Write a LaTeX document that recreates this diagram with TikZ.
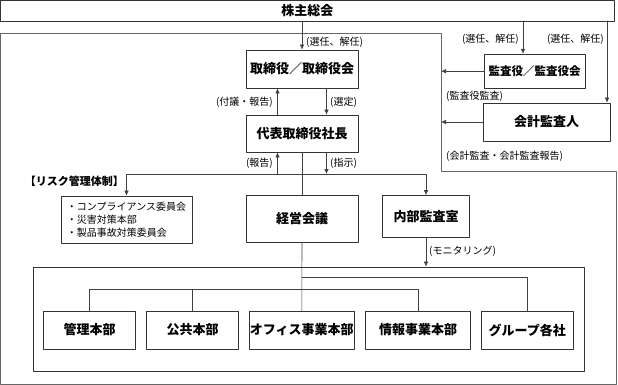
\documentclass[tikz,border=0pt]{standalone}
\usepackage{fontspec}
\setmainfont{Noto Sans CJK JP}
\usetikzlibrary{arrows.meta,positioning}

\begin{document}
\begin{tikzpicture}[
  x=1pt,y=-1pt,
  line cap=round,line join=round,
  box/.style={draw=black!80,fill=white,line width=0.7pt,inner sep=0pt,
    font=\fontsize{13}{15}\selectfont\bfseries},
  unit/.style={box,minimum height=38pt},
  link/.style={draw=black!75,line width=0.6pt},
  note/.style={inner sep=0pt,font=\fontsize{10}{12}\selectfont},
  >={Latex[length=5pt,width=4.5pt]}
]
  \useasboundingbox (0,0) rectangle (618,385);

  % Outer frame
  \draw[black!60,line width=1pt]
    (0.5,34) -- (441,34) -- (441,171) -- (616.5,171) -- (616.5,384) -- (0.5,384) -- cycle;

  % Top
  \node[box,minimum width=613.5pt,minimum height=20.5pt] (agm) at (307.25,10.75) {株主総会};

  % Board and president
  \node[box,minimum width=112pt,minimum height=38pt] (board) at (302,69) {取締役／取締役会};
  \node[box,minimum width=112pt,minimum height=37pt] (pres) at (302,133.5) {代表取締役社長};

  % Auditors
  \node[box,minimum width=101pt,minimum height=34pt,
    font=\fontsize{11.5}{14}\selectfont\bfseries] (kansa) at (534.5,71.2) {監査役／監査役会};
  \node[box,minimum width=127pt,minimum height=38pt] (kaikei) at (546.7,122) {会計監査人};

  % Middle row
  \node[box,minimum width=131pt,minimum height=47pt,align=left,
    font=\fontsize{10}{13.2}\selectfont] (risk) at (126.5,219.5)
    {・コンプライアンス委員会\\・災害対策本部\\・製品事故対策委員会};
  \node[box,minimum width=112pt,minimum height=47pt] (keiei) at (302,218.5) {経営会議};
  \node[box,minimum width=87pt,minimum height=41.5pt] (audit) at (426,216.3) {内部監査室};

  % Inner frame and divisions
  \node[draw=black!80,line width=0.7pt,minimum width=551.5pt,minimum height=104pt] (field) at (308.75,319) {};
  \node[unit,minimum width=92pt] (kanri) at (89.5,330) {管理本部};
  \node[unit,minimum width=92pt] (kokyo) at (192.7,330) {公共本部};
  \node[unit,minimum width=105pt] (office) at (301.8,330) {オフィス事業本部};
  \node[unit,minimum width=105pt] (joho) at (418,330) {情報事業本部};
  \node[unit,minimum width=92pt] (grp) at (527.3,330) {グループ各社};

  % Key points
  \coordinate (fr) at (441,34);
  \coordinate (k1) at (523,21);
  \coordinate (k2) at (607,21);
  \coordinate (split) at (302,174);
  \coordinate (bus1) at (302,277.5);
  \coordinate (bus2) at (302,289.3);
  \coordinate (upL) at ([xshift=-24.5pt]board.south);
  \coordinate (upR) at ([xshift=24.5pt]board.south);
  \coordinate (dnL) at ([xshift=-24.5pt]pres.south);
  \coordinate (dnR) at ([xshift=24.5pt]pres.south);

  % Connectors
  \draw[link,->] (board.north |- agm.south) -- (board.north);
  \draw[link,->] (k1) -- (k1 |- kansa.north);
  \draw[link,->] (k2) -- (k2 |- kaikei.north);
  \draw[link,->] (kansa.west) -- (kansa.west -| fr);
  \draw[link,->] (kaikei.west) -- (kaikei.west -| fr);
  \draw[link,->] (upL |- pres.north) -- (upL);
  \draw[link,->] (upR) -- (upR |- pres.north);
  \draw[link,->] (dnL |- split) -- (dnL);
  \draw[link,->] (dnR) -- (dnR |- split);
  \draw[link,->] (split) -| (risk.north);
  \draw[link,->] (split) -| (audit.north);
  \draw[link] (pres.south) -- (keiei.north);
  \draw[link] (keiei.south) -- (office.north);
  \draw[link,->] (audit.south) -- (audit.south |- field.north);
  \draw[link] (bus1) -| (grp.north);
  \draw[link] (kanri.north) |- (joho.north |- bus2) -- (joho.north);
  \draw[link] (kokyo.north) -- (kokyo.north |- bus2);

  % Labels
  \node[note,anchor=west] (l1) at (306,42) {(選任、解任)};
  \node[note,anchor=east] (l2) at (519,39) {(選任、解任)};
  \node[note,anchor=east] (l3) at (604,39) {(選任、解任)};
  \node[note,anchor=east] (l4) at (273,102) {(付議・報告)};
  \node[note,anchor=west] (l5) at (330,102) {(選定)};
  \node[note,anchor=west] (l6) at (446,96.5) {(監査役監査)};
  \node[note,anchor=west] (l7) at (446,156) {(会計監査・会計監査報告)};
  \node[note,anchor=east] (l8) at (273,163) {(報告)};
  \node[note,anchor=west] (l9) at (330,163) {(指示)};
  \node[note,anchor=east,font=\fontsize{11}{13}\selectfont\bfseries] (l10) at (124,181.5) {【リスク管理体制】};
  \node[note,anchor=west] (l11) at (429,251.5) {(モニタリング)};
\end{tikzpicture}
\end{document}
